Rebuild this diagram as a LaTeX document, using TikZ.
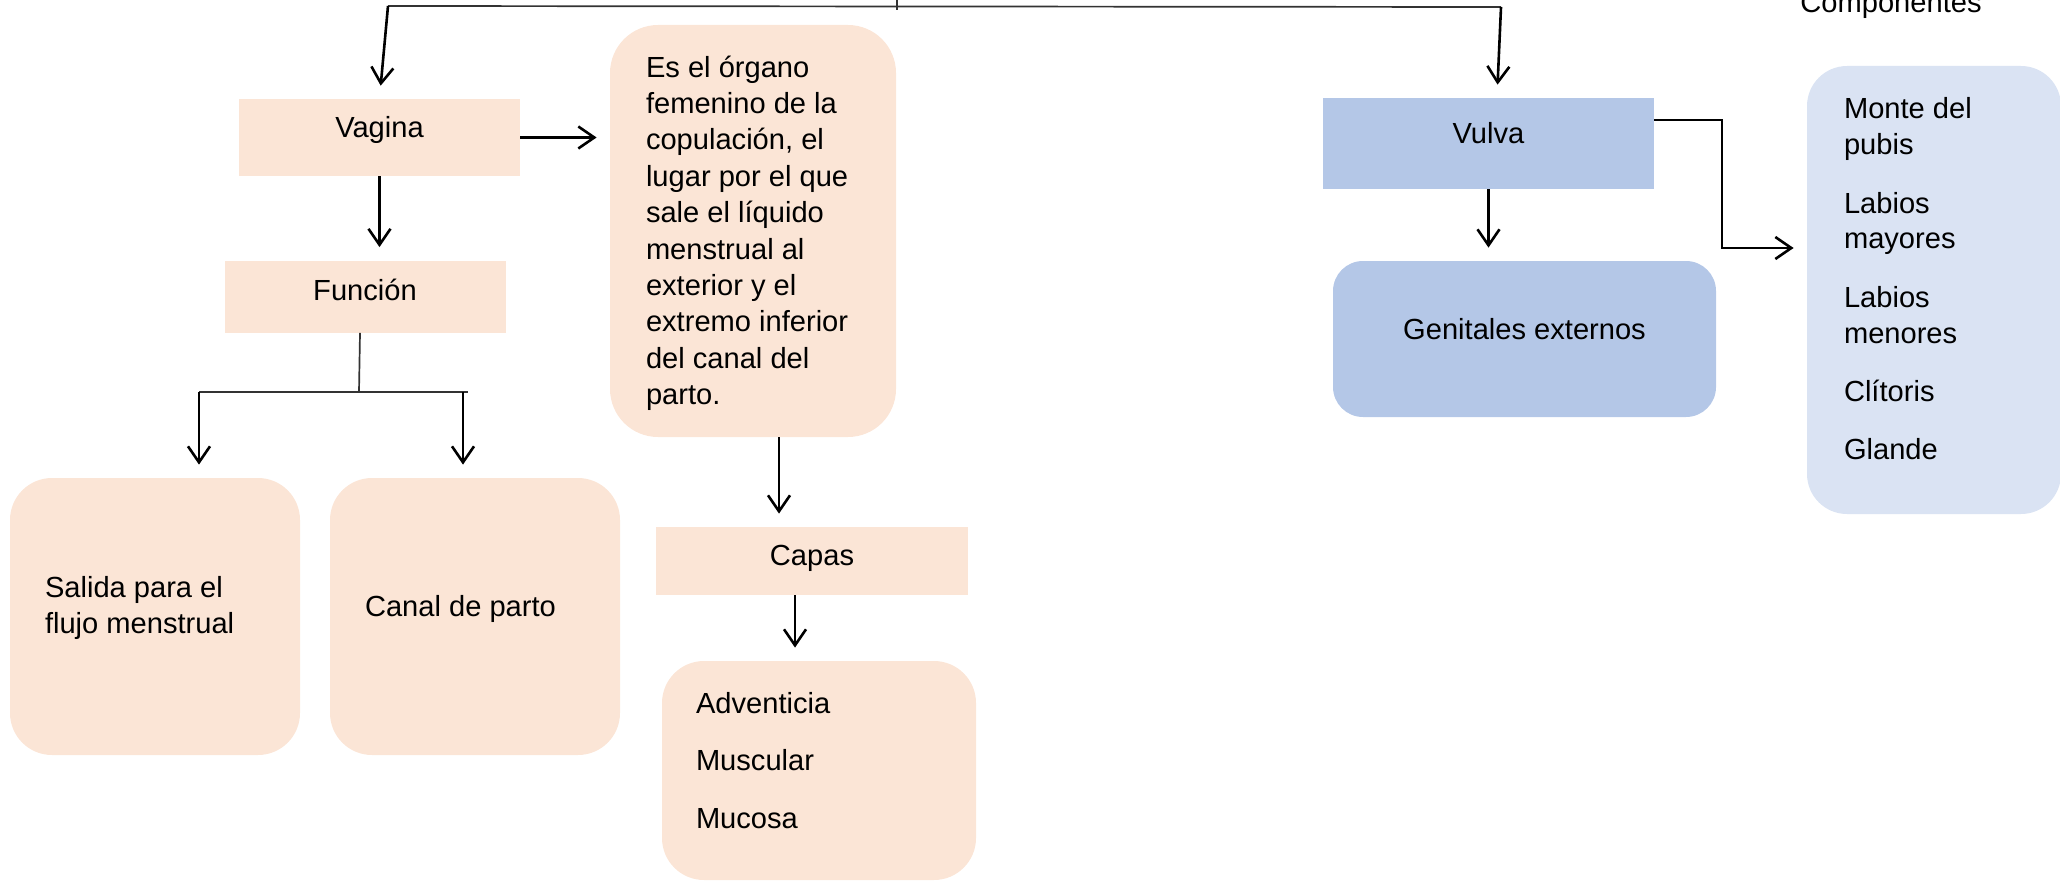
\documentclass[tikz,border=0pt]{standalone}
\usepackage{fontspec}
\setmainfont{Liberation Sans}
\usetikzlibrary{arrows.meta,calc}
\definecolor{peach}{HTML}{FBE5D6}
\definecolor{bluebox}{HTML}{B4C7E7}
\definecolor{lightblue}{HTML}{DAE3F3}
% #1 height, #2 width, #3 left inset, #4 first baseline from top, #5 text
\newcommand{\boxtxt}[5]{\parbox[c][#1][t]{#2}{\raggedright\leftskip=#3\relax\vspace*{\dimexpr#4-11.5pt\relax}\rule{0pt}{11.5pt}#5}}
\begin{document}
\begin{tikzpicture}[x=0.5pt,y=-0.5pt,
  font=\fontsize{14.55pt}{18.2pt}\selectfont,
  sbox/.style={inner sep=0pt, draw=none, fill=peach, text height=5pt, text depth=5pt},
  tbox/.style={inner sep=0pt, draw=none},
  arr/.style={line width=1.3pt, -{Straight Barb[length=8pt,width=11pt]}, shorten >=6.5pt},
  ln/.style={line width=0.85pt, black!80}]
\useasboundingbox (0,0) rectangle (2060,883);

% nodes
\node[sbox, minimum width=140.5pt, minimum height=38.5pt] (vag) at (379.5,137.5) {Vagina};
\node[sbox, minimum width=140.5pt, minimum height=36pt, text height=7pt, text depth=3pt] (fun) at (365,296.5) {Función};
\node[tbox, fill=peach, rounded corners=24pt] (big) at (753,231)
  {\boxtxt{206pt}{143pt}{18pt}{26pt}{Es el órgano\\femenino de la\\copulación, el\\lugar por el que\\sale el líquido\\menstrual al\\exterior y el\\extremo inferior\\del canal del\\parto.}};
\node[tbox, fill=peach, rounded corners=21pt] (sal) at (155,616.5)
  {\boxtxt{138.5pt}{145pt}{17.5pt}{59.5pt}{Salida para el\\flujo menstrual}};
\node[tbox, fill=peach, rounded corners=21pt] (can) at (475,616.5)
  {\boxtxt{138.5pt}{145pt}{17.5pt}{69pt}{Canal de parto}};
\node[sbox, minimum width=156pt, minimum height=34pt, text height=7pt, text depth=3pt] (cap) at (812,561) {Capas};
\node[tbox, fill=peach, rounded corners=21pt] (lay) at (819,770.5)
  {\boxtxt{109.5pt}{157pt}{17pt}{26pt}{Adventicia\\[10.55pt]Muscular\\[10.55pt]Mucosa}};
\node[sbox, fill=bluebox, minimum width=165.5pt, minimum height=45.5pt] (vul) at (1488.5,143.5) {Vulva};
\node[sbox, fill=bluebox, minimum width=191.5pt, minimum height=78pt, rounded corners=15pt] (gen) at (1524.5,339) {Genitales externos};
\node[tbox, fill=lightblue, rounded corners=20pt] (comp) at (1934,290)
  {\boxtxt{224pt}{127pt}{18.5pt}{26.4pt}{\fontsize{14.55pt}{17.9pt}\selectfont Monte del\\pubis\\[11.3pt]Labios\\mayores\\[11.3pt]Labios\\menores\\[11.3pt]Clítoris\\[11.3pt]Glande}};
\node[anchor=base west, inner sep=0pt] (ctitle) at (1800,13) {Componentes};

% coordinates
\coordinate (tk) at (897,0);
\coordinate (tk2) at (897,10);
\coordinate (tl) at (388,6);
\coordinate (tr) at (1501,7);
\coordinate (fs) at (359,392);
\coordinate (fl) at (199,392);
\coordinate (fr) at (468,392);
\coordinate (fa) at (463,392);
\coordinate (bs) at ($(big.south)+(26,0)$);
\coordinate (cs) at ($(cap.south)+(-17,0)$);
\coordinate (ve) at ($(vul.east)+(0,-23.5)$);
\coordinate (vk) at (1722,248);

% connectors
\draw[ln, line width=0.6pt] (tk) -- (tk2);
\draw[ln] (tl) -- (tr);
\draw[arr] (tl) -- (vag.north);
\draw[arr] (tr) -- ($(vul.north)+(8.5,0)$);
\draw[arr] (vag.south) -- (vag.south |- fun.north);
\draw[arr] (vag.east) -- (vag.east -| big.west);
\draw[ln] ($(fun.south)+(-5,0)$) -- (fs);
\draw[ln] (fl) -- (fr);
\draw[arr] (fl) -- (fl |- sal.north);
\draw[arr] (fa) -- (fa |- can.north);
\draw[arr] (bs) -- (bs |- cap.north);
\draw[arr] (cs) -- (cs |- lay.north);
\draw[arr] (vul.south) -- (vul.south |- gen.north);
\draw[arr] (ve) -| (vk) -- (vk -| comp.west);
\end{tikzpicture}
\end{document}
